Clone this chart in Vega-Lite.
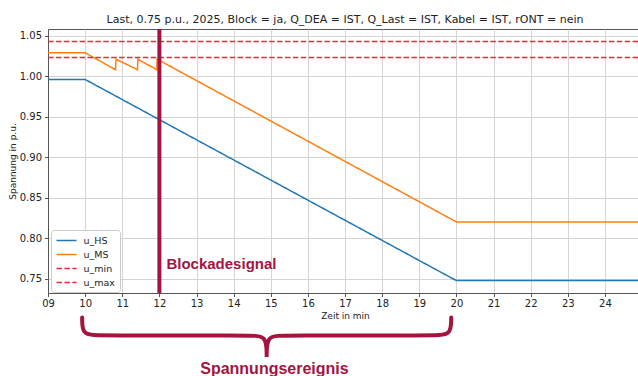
{
  "$schema": "https://vega.github.io/schema/vega-lite/v6.json",
  "autosize": {"type": "none"},
  "padding": {"left": 48, "top": 29, "right": 0, "bottom": 84},
  "width": 594,
  "height": 264,
  "background": "white",
  "title": {
    "text": "Last, 0.75 p.u., 2025, Block = ja, Q_DEA = IST, Q_Last = IST, Kabel = IST, rONT = nein",
    "font": "DejaVu Sans",
    "fontSize": 11,
    "fontWeight": "normal",
    "color": "#222",
    "anchor": "middle",
    "frame": "group",
    "baseline": "alphabetic",
    "offset": -7
  },
  "config": {
    "view": {"stroke": "#555", "strokeWidth": 1},
    "axis": {
      "domainColor": "#555",
      "tickColor": "#555",
      "tickSize": 3.5,
      "gridColor": "#d4d4d4",
      "gridWidth": 1,
      "labelFont": "DejaVu Sans",
      "labelFontSize": 10,
      "labelColor": "#222",
      "labelOverlap": false,
      "titleFont": "DejaVu Sans",
      "titleFontSize": 9,
      "titleFontWeight": "normal",
      "titleColor": "#222"
    },
    "axisX": {"labelFlush": false}
  },
  "datasets": {
    "series": [
      {"t": 9, "u": 0.996, "series": "u_HS"},
      {"t": 10, "u": 0.996, "series": "u_HS"},
      {"t": 20, "u": 0.7475, "series": "u_HS"},
      {"t": 25, "u": 0.7475, "series": "u_HS"},
      {"t": 9, "u": 1.029, "series": "u_MS"},
      {"t": 10, "u": 1.029, "series": "u_MS"},
      {"t": 10.82, "u": 1.008, "series": "u_MS"},
      {"t": 10.83, "u": 1.021, "series": "u_MS"},
      {"t": 11.41, "u": 1.008, "series": "u_MS"},
      {"t": 11.42, "u": 1.021, "series": "u_MS"},
      {"t": 11.93, "u": 1.008, "series": "u_MS"},
      {"t": 11.94, "u": 1.021, "series": "u_MS"},
      {"t": 20, "u": 0.82, "series": "u_MS"},
      {"t": 25, "u": 0.82, "series": "u_MS"},
      {"t": 9, "u": 1.023, "series": "u_min"},
      {"t": 25, "u": 1.023, "series": "u_min"},
      {"t": 9, "u": 1.043, "series": "u_max"},
      {"t": 25, "u": 1.043, "series": "u_max"}
    ],
    "brace": [
      {"i": 1, "t": 9.92, "u": 0.702},
      {"i": 2, "t": 9.92, "u": 0.702},
      {"i": 3, "t": 9.92, "u": 0.702},
      {"i": 4, "t": 9.92, "u": 0.6798},
      {"i": 5, "t": 10.4, "u": 0.6798},
      {"i": 6, "t": 14.45, "u": 0.6798},
      {"i": 7, "t": 14.89, "u": 0.6798},
      {"i": 8, "t": 14.89, "u": 0.653},
      {"i": 9, "t": 14.89, "u": 0.653},
      {"i": 10, "t": 14.89, "u": 0.653},
      {"i": 11, "t": 14.89, "u": 0.6798},
      {"i": 12, "t": 15.33, "u": 0.6798},
      {"i": 13, "t": 19.38, "u": 0.6798},
      {"i": 14, "t": 19.86, "u": 0.6798},
      {"i": 15, "t": 19.86, "u": 0.702},
      {"i": 16, "t": 19.86, "u": 0.702},
      {"i": 17, "t": 19.86, "u": 0.702}
    ],
    "notes": [
      {"t": 12.19, "u": 0.7624, "label": "Blockadesignal", "kind": "block"},
      {"t": 15.1, "u": 0.6316, "label": "Spannungsereignis", "kind": "event"}
    ]
  },
  "layer": [
    {
      "data": {"name": "series"},
      "mark": {"type": "line", "strokeWidth": 1.5},
      "encoding": {
        "x": {
          "field": "t", "type": "quantitative",
          "scale": {"domain": [9, 25], "nice": false, "zero": false},
          "axis": {"title": "Zeit in min", "values": [9,10,11,12,13,14,15,16,17,18,19,20,21,22,23,24], "tickCount": 30, "format": "02d", "labelPadding": 2, "titlePadding": 3, "labelOverlap": false, "labelFlush": false}
        },
        "y": {
          "field": "u", "type": "quantitative",
          "scale": {"domain": [0.7322, 1.0583], "nice": false, "zero": false},
          "axis": {"title": "Spannung in p.u.", "values": [0.75, 0.8, 0.85, 0.9, 0.95, 1.0, 1.05], "tickCount": 20, "format": ".2f", "labelPadding": 3, "titlePadding": 2, "labelOverlap": false}
        },
        "color": {
          "field": "series", "type": "nominal",
          "scale": {"domain": ["u_HS", "u_MS", "u_min", "u_max"], "range": ["#1f77b4", "#ff7f0e", "#ee2a3a", "#ee2a3a"]},
          "legend": {
            "title": null, "orient": "none", "legendX": 3, "legendY": 201,
            "fillColor": "white", "strokeColor": "#cccccc", "cornerRadius": 3, "padding": 4.5,
            "labelFont": "DejaVu Sans", "labelFontSize": 9.5, "labelColor": "#222", "labelOffset": 16,
            "symbolType": "M-1,0H3", "symbolSize": 100, "symbolStrokeWidth": 1.5, "rowPadding": 3
          }
        },
        "strokeDash": {
          "field": "series", "type": "nominal",
          "scale": {"domain": ["u_HS", "u_MS", "u_min", "u_max"], "range": [[1, 0], [1, 0], [5.5, 2.4], [5.5, 2.4]]},
          "legend": {"title": null}
        }
      }
    },
    {
      "data": {"values": [{"t": 12}]},
      "mark": {"type": "rule", "color": "#a3153f", "strokeWidth": 4},
      "encoding": {"x": {"field": "t", "type": "quantitative"}}
    },
    {
      "data": {"name": "brace"},
      "mark": {"type": "line", "color": "#a3153f", "strokeWidth": 4, "interpolate": "basis", "clip": false, "strokeCap": "round"},
      "encoding": {
        "x": {"field": "t", "type": "quantitative"},
        "y": {"field": "u", "type": "quantitative"},
        "order": {"field": "i", "type": "quantitative"}
      }
    },
    {
      "data": {"name": "notes"},
      "transform": [{"filter": "datum.kind === 'block'"}],
      "mark": {"type": "text", "font": "Liberation Sans", "fontWeight": "bold", "fontSize": 15, "color": "#a3153f", "align": "left", "baseline": "alphabetic", "clip": false},
      "encoding": {
        "x": {"field": "t", "type": "quantitative"},
        "y": {"field": "u", "type": "quantitative"},
        "text": {"field": "label"}
      }
    },
    {
      "data": {"name": "notes"},
      "transform": [{"filter": "datum.kind === 'event'"}],
      "mark": {"type": "text", "font": "Liberation Sans", "fontWeight": "bold", "fontSize": 16, "color": "#a3153f", "align": "center", "baseline": "alphabetic", "clip": false},
      "encoding": {
        "x": {"field": "t", "type": "quantitative"},
        "y": {"field": "u", "type": "quantitative"},
        "text": {"field": "label"}
      }
    }
  ]
}
